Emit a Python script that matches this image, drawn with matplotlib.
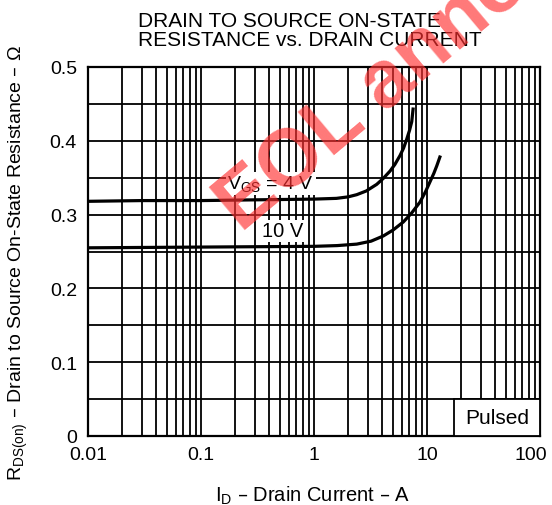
import matplotlib
matplotlib.use("Agg")
import matplotlib.pyplot as plt
from matplotlib.ticker import LogLocator, MultipleLocator, FixedLocator, NullFormatter
from matplotlib.patches import Rectangle
from matplotlib.transforms import ScaledTranslation

plt.rcParams['font.family'] = ['Liberation Sans', 'DejaVu Sans']

# V_GS = 4 V curve (drain current A, resistance ohm)
id_4v = [0.01, 0.03, 0.1, 0.3, 1.0, 1.58, 2.0, 2.39, 2.9, 3.59, 4.1, 4.71,
         5.2, 5.77, 6.2, 6.61, 7.0, 7.33, 7.53]
r_4v = [0.318, 0.319, 0.319, 0.320, 0.321, 0.322, 0.324, 0.327, 0.332, 0.341,
        0.349, 0.359, 0.368, 0.380, 0.390, 0.402, 0.414, 0.426, 0.443]

# V_GS = 10 V curve
id_10v = [0.01, 0.1, 1.0, 1.6, 2.39, 3.2, 4.1, 5.0, 6.17, 7.3, 8.67, 9.7,
          10.6, 11.5, 12.2, 13.0]
r_10v = [0.255, 0.256, 0.257, 0.258, 0.260, 0.264, 0.271, 0.279, 0.290, 0.302,
         0.317, 0.331, 0.344, 0.356, 0.366, 0.378]

x_ticks = [0.01, 0.1, 1, 10, 100]
x_labels = ['0.01', '0.1', '1', '10', '100']
y_ticks = [0, 0.1, 0.2, 0.3, 0.4, 0.5]
y_labels = ['0', '0.1', '0.2', '0.3', '0.4', '0.5']

fig = plt.figure(figsize=(5.52, 5.06), dpi=100)
ax = fig.add_axes([88 / 552, 1 - 437 / 506, 452 / 552, 369 / 506])

ax.set_xscale('log')
ax.set_xlim(0.01, 100)
ax.set_ylim(0, 0.5)

ax.xaxis.set_major_locator(FixedLocator(x_ticks))
ax.set_xticklabels(x_labels)
ax.xaxis.set_minor_locator(LogLocator(base=10, subs=range(2, 10), numticks=20))
ax.xaxis.set_minor_formatter(NullFormatter())
ax.set_yticks(y_ticks)
ax.set_yticklabels(y_labels)
ax.yaxis.set_minor_locator(MultipleLocator(0.05))

ax.tick_params(which='both', length=0, labelsize=14)
ax.tick_params(axis='x', pad=7)
ax.tick_params(axis='y', pad=8)
ax.grid(which='both', color='black', linewidth=1.3)
for s in ax.spines.values():
    s.set_linewidth(1.6)

# last x label sits a bit left so it stays inside the figure
last = ax.get_xticklabels()[-1]
last.set_transform(last.get_transform() + ScaledTranslation(-0.09, 0, fig.dpi_scale_trans))

ax.plot(id_4v, r_4v, color='black', linewidth=2.3, zorder=3)
ax.plot(id_10v, r_10v, color='black', linewidth=2.3, zorder=3)

# curve labels with white background
ax.text(0.415, 0.3415, r'V$_{\mathregular{GS}}$ = 4 V', fontsize=14, ha='center', va='center',
        bbox=dict(facecolor='white', edgecolor='none', pad=1), zorder=4)
ax.text(0.53, 0.278, '10 V', fontsize=14.5, ha='center', va='center',
        bbox=dict(facecolor='white', edgecolor='none', pad=1), zorder=4)

# Pulsed box
ax.add_patch(Rectangle((17.5, 0), 82.5, 0.05, facecolor='white', edgecolor='black',
                       linewidth=1.3, zorder=4, clip_on=False))
ax.text(42, 0.025, 'Pulsed', fontsize=15, ha='center', va='center', zorder=5)

# title, two left-aligned lines
fig.text(138 / 552, 1 - 21.5 / 506, 'DRAIN TO SOURCE ON-STATE',
         ha='left', va='center', fontsize=15)
fig.text(138 / 552, 1 - 40.5 / 506, 'RESISTANCE vs. DRAIN CURRENT',
         ha='left', va='center', fontsize=15)

ax.set_xlabel(r'I$_{\mathregular{D}}$ – Drain Current – A', fontsize=14.5)
ax.xaxis.set_label_coords(0.496, -0.128)
ax.set_ylabel(r'R$_{\mathregular{DS(on)}}$ – Drain to Source On-State Resistance – Ω',
              fontsize=14)
ax.yaxis.set_label_coords(-0.128, 0.47)

# red EOL watermark
fig.text(228 / 552, 1 - 217 / 506, 'EOL announced', color='#ff3030', alpha=0.65,
         fontsize=58, fontweight='bold', rotation=40, ha='left', va='center',
         rotation_mode='anchor', zorder=10)

fig.savefig('out.png', dpi=100)
